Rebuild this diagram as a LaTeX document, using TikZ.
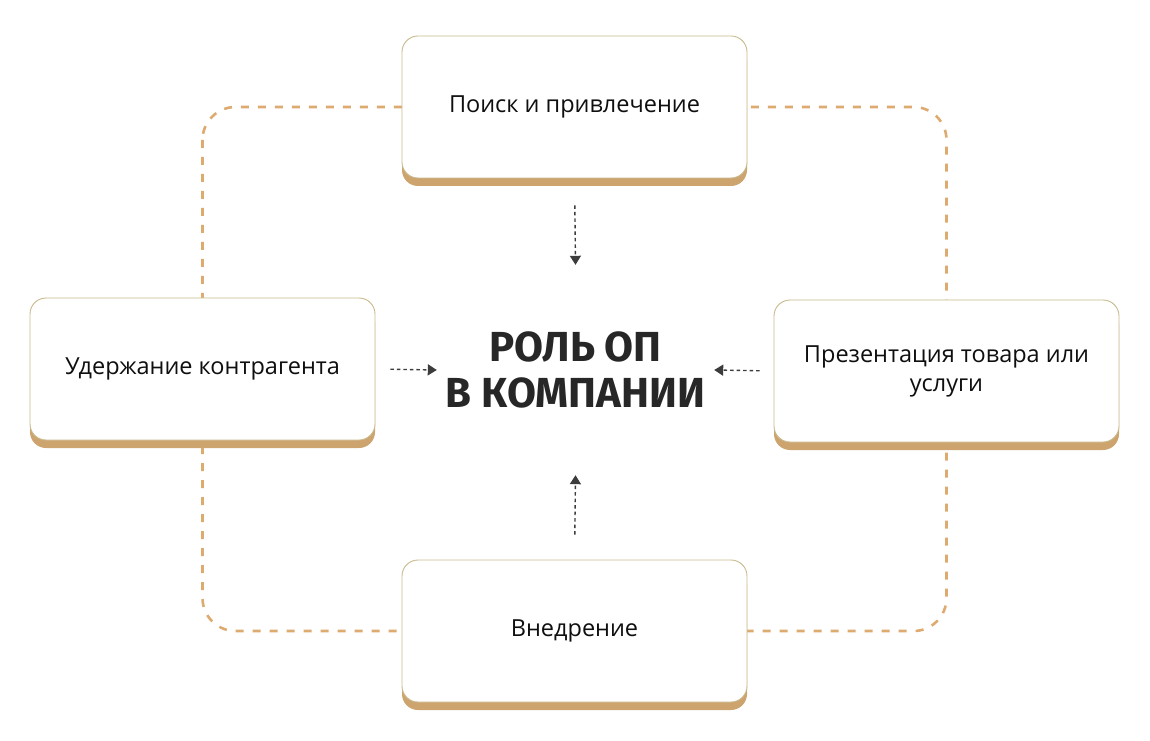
\documentclass[tikz,border=0pt]{standalone}
\usepackage{fontspec}
\setmainfont{Open Sans}
\newfontfamily\headfont{Fira Sans}
\usetikzlibrary{arrows.meta,shadows,backgrounds}
\definecolor{boxline}{RGB}{200,186,140}
\definecolor{boxshade}{RGB}{205,164,110}
\definecolor{loopline}{RGB}{221,170,112}
\definecolor{arrowgray}{RGB}{60,60,60}
\definecolor{textdark}{RGB}{15,15,15}

\begin{document}
\begin{tikzpicture}[x=1pt, y=1pt,
    stage/.style={draw=boxline, line width=0.9pt, fill=white, rounded corners=16pt,
        minimum width=345pt, minimum height=142pt, align=center, text=textdark,
        font=\fontsize{23.5}{29}\selectfont,
        drop shadow={shadow xshift=0pt, shadow yshift=-8pt, fill=boxshade, opacity=1}},
    loopdash/.style={draw=loopline, line width=2.6pt, dash pattern=on 8pt off 9pt, rounded corners=33pt},
    pointer/.style={draw=arrowgray, line width=1.4pt, dash pattern=on 3.5pt off 3pt,
        -{Triangle[width=11pt, length=9pt]}}]
    \useasboundingbox (0,0) rectangle (1150,740);

    % Stages
    \node[stage] (search) at (574.5,633) {Поиск и привлечение};
    \node[stage] (keep) at (202.5,371) {Удержание контрагента};
    \node[stage] (offer) at (946.5,369) {Презентация товара или\\услуги};
    \node[stage] (launch) at (574.5,109) {Внедрение};

    % Centre label
    \node[minimum width=277pt, minimum height=210pt, align=center, text=textdark!90,
        font=\headfont\bfseries\fontsize{42}{46}\selectfont] (role) at (575.5,370)
        {РОЛЬ ОП\\В КОМПАНИИ};

    % Dashed loop behind the stages
    \begin{scope}[on background layer]
        \draw[loopdash] (keep |- search) rectangle (offer |- launch);
    \end{scope}

    % Pointers to the centre
    \draw[pointer, shorten <=27pt] (search.south) -- (role.north);
    \draw[pointer, shorten <=25pt] (launch.north) -- (role.south);
    \draw[pointer, shorten <=15pt] (keep.east) -- (role.west);
    \draw[pointer, shorten <=14pt] (offer.west) -- (role.east);
\end{tikzpicture}
\end{document}
